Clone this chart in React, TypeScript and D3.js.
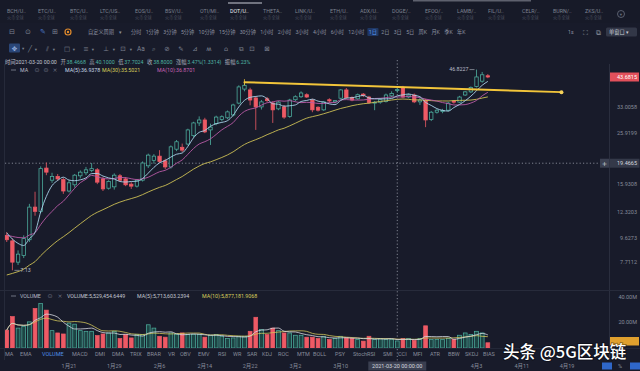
import React from "react";
import * as d3 from "d3";

// ---------------- data ----------------
const startDay = "2021-01-10";
// closes before the visible window (Dec 12 - Jan 9), used only for MA warm-up
const priorCloses = [4.6, 4.8, 4.7, 4.6, 4.9, 5.1, 5.0, 4.9, 4.8, 4.6, 4.5, 4.4, 4.6, 4.8, 5.1, 5.6, 6.2, 6.8, 7.4, 8.3, 8.8, 9.3, 9.9, 10.3, 10.1, 10.6, 10.2, 10.5, 9.9];
const opens = [9.9, 9.4, 7.7, 8.2, 9.5, 12.9, 12.4, 18.6, 16.6, 17.2, 16.7, 15.0, 15.9, 17.3, 17.8, 18.2, 18.3, 16.8, 15.4, 15.6, 17.3, 16.8, 16.0, 15.7, 16.6, 19.0, 20.0, 20.8, 19.9, 18.8, 22.2, 22.6, 23.3, 25.2, 28.4, 29.2, 26.6, 28.2, 29.3, 29.8, 30.6, 34.2, 39.0, 38.7, 35.9, 33.0, 35.6, 34.2, 32.4, 33.0, 30.2, 35.3, 36.3, 37.0, 35.2, 32.9, 32.1, 35.3, 34.6, 35.8, 38.7, 36.0, 35.6, 37.2, 36.2, 34.2, 34.5, 34.7, 36.6, 38.4668, 39.4, 36.2, 36.9, 34.6, 35.2, 29.3, 31.4, 31.6, 32.0, 34.9, 34.5, 36.9, 38.0, 40.0, 42.0, 44.2];
const highs = [10.2, 9.6, 8.6, 9.9, 13.3, 14.9, 18.9, 19.6, 17.8, 17.6, 17.0, 16.6, 17.6, 18.2, 18.8, 19.5, 18.6, 17.1, 16.6, 17.7, 17.6, 17.1, 16.3, 16.8, 19.8, 21.3, 21.2, 22.0, 20.3, 23.0, 24.2, 23.4, 26.9, 28.7, 30.2, 29.8, 28.2, 30.4, 30.5, 31.9, 34.0, 40.4, 41.6, 39.5, 36.5, 35.2, 36.2, 34.8, 34.9, 33.6, 35.6, 36.8, 38.2, 37.5, 35.6, 33.2, 34.9, 35.8, 35.2, 39.0, 39.4, 36.4, 37.4, 37.6, 36.6, 34.9, 35.8, 37.4, 38.2, 40.1, 40.2, 37.4, 37.4, 36.0, 35.6, 31.8, 32.3, 32.4, 34.6, 35.2, 36.6, 38.3, 40.0, 46.8227, 45.8, 44.9];
const lows = [9.3, 7.13, 7.5, 8.0, 9.3, 11.9, 12.2, 17.4, 16.2, 16.5, 14.6, 14.8, 15.5, 16.9, 17.4, 17.9, 16.0, 15.0, 15.2, 15.2, 16.4, 15.7, 15.3, 15.5, 16.4, 18.6, 19.4, 19.5, 18.4, 18.5, 21.8, 21.6, 23.0, 24.8, 27.6, 25.8, 23.1, 27.8, 28.8, 29.4, 30.2, 33.8, 38.2, 33.5, 26.6, 32.2, 34.6, 28.4, 32.0, 29.5, 29.8, 34.8, 35.9, 35.9, 31.4, 31.6, 31.8, 34.3, 34.1, 35.4, 35.6, 34.8, 35.3, 36.2, 34.0, 32.0, 34.0, 34.4, 36.1, 37.7024, 35.8, 35.8, 34.2, 33.6, 27.3, 28.9, 31.0, 31.1, 31.6, 34.0, 34.2, 36.6, 37.6, 39.6, 41.4, 43.2];
const closes = [9.5, 7.7, 8.3, 9.6, 12.9, 12.4, 18.5, 17.9, 17.2, 16.8, 15.0, 16.2, 17.4, 17.9, 18.3, 18.5, 16.3, 15.3, 16.4, 17.4, 16.6, 15.9, 15.7, 16.6, 19.5, 21.0, 20.8, 19.8, 18.8, 22.7, 23.8, 22.0, 26.6, 28.4, 29.2, 26.1, 27.3, 30.0, 30.1, 31.5, 33.6, 39.8, 40.4, 35.2, 33.0, 34.6, 35.0, 32.1, 34.5, 30.0, 35.2, 36.3, 37.6, 36.2, 32.1, 32.0, 34.6, 34.9, 35.0, 38.7, 36.0, 35.2, 37.0, 36.8, 34.4, 34.5, 35.3, 36.9, 37.47, 38.8, 36.2, 36.9, 34.6, 35.2, 29.2, 31.4, 32.0, 31.9, 34.2, 34.5, 36.2, 38.0, 39.6, 43.7, 44.6, 43.6815];
// volume in millions
const volumes = [14.0, 24.6, 15.6, 16.9, 20.5, 31.0, 34.9, 29.7, 13.6, 11.8, 11.0, 19.5, 18.7, 13.6, 13.1, 13.1, 9.7, 11.0, 11.8, 13.1, 7.4, 10.5, 7.9, 10.5, 10.5, 18.2, 15.6, 9.2, 8.5, 11.8, 10.5, 11.8, 10.5, 10.5, 10.5, 8.5, 10.0, 10.5, 9.2, 7.4, 7.9, 9.2, 9.2, 13.1, 24.1, 14.4, 10.5, 15.6, 13.6, 11.8, 11.8, 10.0, 10.0, 8.5, 8.5, 7.4, 9.2, 6.7, 7.4, 9.2, 7.9, 7.4, 6.7, 5.4, 9.2, 6.7, 7.4, 6.7, 6.7, 5.53, 7.4, 7.4, 5.9, 7.4, 17.4, 6.7, 6.7, 6.7, 7.4, 6.7, 10.0, 11.8, 10.5, 13.1, 11.8, 4.1];

const priceTicks = [33.0058, 25.9199, 15.9308, 12.3203, 9.6273, 7.7112];
const priceTickLabels = ["33.0058", "25.9199", "15.9308", "12.3203", "9.6273", "7.7112"];
const lastPriceLabel = "43.6815";
const crosshairDay = "2021-03-20";
const crosshairPrice = 19.4665;
const crosshairPriceLabel = "19.4665";
const crosshairDateLabel = "2021-03-20 00:00:00";
const volumeTicks = [40, 20];
const volumeTickLabels = ["40.00M", "20.00M"];
const dateTicks = ["2021-01-21", "2021-01-29", "2021-02-06", "2021-02-14", "2021-02-22", "2021-03-02", "2021-03-10", "2021-04-03", "2021-04-11", "2021-04-19"];
const dateTickLabels = ["1月21", "1月29", "2月6", "2月14", "2月22", "3月2", "3月10", "4月3", "4月11", "4月19"];
const trendDays = ["2021-02-21", "2021-04-18"];
const trendPrices = [41.6, 37.9];
const highLabel = "46.8227";
const lowLabel = "7.13";

const pairTabs = ["BCH/U..", "ETC/U..", "BTC/U..", "LTC/US..", "EOS/U..", "BSV/U..", "OTI/MI..", "DOT/U..", "THETA..", "LINK/U..", "ETH/U..", "ADX/U..", "DOGE/..", "EFOO/..", "LAMB/..", "FIL/U..", "CELR/..", "BURN/..", "ZKS/U.."];
const periods = ["分时", "1分钟", "3分钟", "5分钟", "10分钟", "15分钟", "30分钟", "1小时", "2小时", "3小时", "4小时", "6小时", "12小时", "1日", "2日", "3日", "5日", "周K", "月K", "季K", "年K"];
const activePeriod = "1日";
const indicators = ["MA", "EMA", "VOLUME", "MACD", "DMI", "DMA", "TRIX", "BRAR", "VR", "OBV", "EMV", "RSI", "WR", "SAR", "KDJ", "ROC", "MTM", "BOLL", "PSY", "StochRSI", "SMI", "CCI", "MFI", "ATR", "BBW", "SKDJ", "BIAS"];
const infoLabels = ["开", "高", "低", "收", "涨幅", "振幅"];
const infoValues = ["38.4668", "40.1000", "37.7024", "38.8000", "3.47%(1.3314)", "6.23%"];
const maLegend = ["MA(5):36.9378", "MA(30):35.5021", "MA(10):36.8701"];
const volLegend = ["VOLUME:5,529,454.6449", "MA(5):5,713,603.2394", "MA(10):5,877,181.9068"];

// ---------------- layout / style ----------------
const BG = "#181b2a";
const UP = "#4fb3a2";
const DOWN = "#ee5a65";
const GRAY = "#878c9a";
const FONT = "Roboto, 'Noto Sans CJK SC', sans-serif";
const CJK = "'Noto Sans CJK SC', Roboto, sans-serif";
const SYM = "'DejaVu Sans', sans-serif";
const tabX = [7, 38, 70, 100, 135, 165, 200, 230, 263, 295, 330, 360, 392, 425, 457, 488, 522, 553, 585];
const indicatorX = [5, 20, 42, 72, 95, 112, 130, 147, 168, 180, 198, 218, 233, 247, 262, 278, 297, 313, 335, 353, 383, 398, 413, 430, 448, 465, 483];

function tw(s: string, fs: number) {
  let w = 0;
  for (const ch of s) {
    if (/[\u3000-\u9fff\uff00-\uffef]/.test(ch)) w += fs;
    else if (/[0-9]/.test(ch)) w += fs * 0.562;
    else if (".,:".includes(ch)) w += fs * 0.26;
    else if (ch === " ") w += fs * 0.25;
    else if (ch === "-") w += fs * 0.28;
    else if (ch === "%") w += fs * 0.73;
    else if ("()".includes(ch)) w += fs * 0.34;
    else if ("MW".includes(ch)) w += fs * 0.87;
    else if (/[A-Z]/.test(ch)) w += fs * 0.64;
    else w += fs * 0.52;
  }
  return w;
}

export default function App() {
  const parse = d3.timeParse("%Y-%m-%d");
  const d0 = parse(startDay) as Date;
  const days = closes.map((_, i) => d3.timeDay.offset(d0, i));
  const x = d3.scaleTime().domain([parse("2021-01-21") as Date, parse("2021-04-19") as Date]).range([69, 69 + 88 * 5.66]);
  const y = d3.scaleLog().domain([7.7112, 43.6815]).range([262, 77]);
  const yv = d3.scaleLinear().domain([0, 40]).range([348, 297]);

  const all = priorCloses.concat(closes);
  const P = priorCloses.length;
  const ma = (n: number) => closes.map((_, i) => d3.mean(all.slice(P + i - n + 1, P + i + 1)) as number);
  const vma = (n: number) => volumes.map((_, i) => d3.mean(volumes.slice(Math.max(0, i - n + 1), i + 1)) as number);
  const line = d3.line<number>().x((_, i) => x(days[i])).y((v) => y(v)).curve(d3.curveMonotoneX);
  const vline = d3.line<number>().x((_, i) => x(days[i])).y((v) => yv(v)).curve(d3.curveMonotoneX);

  const cw = 3.4;
  const vw = 3.8;
  const xc = x(parse(crosshairDay) as Date);
  const yc = y(crosshairPrice);
  const hiIdx = highs.indexOf(d3.max(highs) as number);
  const loIdx = lows.indexOf(d3.min(lows) as number);

  const pfs = 5.2;
  let px = 131;
  const periodPos = periods.map((p) => {
    const pos = px;
    px += tw(p, pfs) + 4.3;
    return pos;
  });

  const ifs = 5.3;
  let ix = 5 + tw("时间2021-03-20 00:00", ifs) + 3.5;
  const infoPos = infoLabels.map((l, i) => {
    const lx = ix;
    const vx = lx + tw(l, ifs) + 0.8;
    ix = vx + tw(infoValues[i], ifs) + 3.5;
    return [lx, vx];
  });

  const tools = [
    { g: "╱", x: 30 }, { g: "▾", x: 36 }, { g: "⫽", x: 47 }, { g: "▾", x: 54 }, { g: "□", x: 67 }, { g: "▾", x: 74 },
    { g: "≡", x: 86 }, { g: "▾", x: 93 }, { g: "⊥", x: 106 }, { g: "▾", x: 114 }, { g: "⊡", x: 123 }, { g: "▾", x: 131 },
    { g: "Aa", x: 141 }, { g: "⌕", x: 154 }, { g: "⊘", x: 167 }, { g: "✎", x: 181 }, { g: "⊿", x: 195 }, { g: "ʍ", x: 209 },
    { g: "⌂", x: 226 }, { g: "⧉", x: 241 }, { g: "⊡", x: 252 }, { g: "⊠", x: 267 },
  ];

  return (
    <svg width={640} height={371} style={{ position: "fixed", left: 0, top: 0, display: "block", background: BG }} fontFamily={FONT}>
      <defs>
        <clipPath id="main"><rect x={5} y={64} width={604} height={226} /></clipPath>
        <clipPath id="vol"><rect x={5} y={299} width={604} height={49} /></clipPath>
      </defs>
      <rect x={0} y={0} width={640} height={371} fill={BG} />
      <rect x={0} y={0} width={640} height={23} fill="#171a28" />
      <rect x={413} y={0} width={118} height={1.5} fill="#8d919c" opacity={0.6} />

      {/* tab bar */}
      <line x1={228} x2={262} y1={3} y2={3} stroke="#c9ccd6" strokeWidth={1.2} />
      {pairTabs.map((t, i) => (
        <g key={t}>
          <text x={tabX[i]} y={12.5} fontSize={5.3} fill={t.startsWith("DOT") ? "#e8eaf0" : "#7d8291"}>{t}</text>
          <text x={tabX[i]} y={18.5} fontSize={4.2} fill="#474c5c" fontFamily={CJK}>火币全球</text>
        </g>
      ))}
      <circle cx={621} cy={14} r={3.5} fill="none" stroke="#6b7080" strokeWidth={0.8} />
      <text x={621} y={15.8} fontSize={4.5} fill="#6b7080" textAnchor="middle" fontFamily={SYM}>▾</text>

      {/* row 2: periods */}
      {["⊟", "⊙", "⊞"].map((g, i) => (
        <text key={g} x={[12, 28, 55][i]} y={34} fontSize={7} fill="#7d8291" textAnchor="middle" fontFamily={SYM}>{g}</text>
      ))}
      <text x={43} y={34} fontSize={7} fill="#4a78c8" textAnchor="middle" fontFamily={SYM}>✎</text>
      <circle cx={68} cy={32} r={3} fill="none" stroke="#e08a2c" strokeWidth={1.2} />
      <circle cx={68} cy={32} r={1.2} fill="#e08a2c" />
      <text x={88} y={34} fontSize={5.2} fill="#8d92a0" fontFamily={CJK}>自定义周期</text>
      <text x={119} y={34} fontSize={5} fill="#8d92a0" fontFamily={SYM}>▾</text>
      {periods.map((p, i) => (
        <g key={p}>
          {p === activePeriod && <rect x={periodPos[i] - 1.5} y={28} width={tw(p, pfs) + 3} height={8} rx={1} fill="#1f3763" />}
          <text x={periodPos[i]} y={34} fontSize={pfs} fill={p === activePeriod ? "#5b9cf2" : "#8d92a0"}>{p}</text>
        </g>
      ))}
      <text x={568} y={34} fontSize={5.2} fill="#8d92a0">1s</text>
      <text x={585} y={34.5} fontSize={7} fill="#8d92a0" fontFamily={SYM} textAnchor="middle">⛶</text>
      <text x={598} y={34.5} fontSize={7} fill="#8d92a0" fontFamily={SYM} textAnchor="middle">⧉</text>
      <rect x={606} y={27.5} width={31} height={9} rx={1.5} fill="#323747" />
      <text x={609} y={34} fontSize={5.2} fill="#c8ccd6" fontFamily={CJK}>单窗口 ▾</text>

      {/* row 3: tools */}
      <rect x={9} y={43.5} width={11} height={9} rx={1} fill="#2a4677" />
      <text x={14.5} y={50.5} fontSize={6.5} fill="#9fb8e6" textAnchor="middle" fontFamily={SYM}>✥</text>
      <text x={22} y={50} fontSize={4.5} fill="#7d8291" fontFamily={SYM}>▾</text>
      {tools.map((t, i) => (
        <text key={i} x={t.x} y={50.5} fontSize={t.g === "▾" ? 4.5 : 6.5} fill="#7d8291" textAnchor="middle" fontFamily={t.g === "Aa" ? FONT : SYM}>{t.g}</text>
      ))}

      {/* row 4: info */}
      <text x={5} y={63.8} fontSize={ifs} fill="#c3c7d1">时间2021-03-20 00:00</text>
      {infoLabels.map((l, i) => (
        <g key={l}>
          <text x={infoPos[i][0]} y={63.8} fontSize={ifs} fill="#aeb2bd">{l}</text>
          <text x={infoPos[i][1]} y={63.8} fontSize={ifs} fill={UP}>{infoValues[i]}</text>
        </g>
      ))}

      {/* MA legend */}
      <line x1={11} x2={16} y1={70} y2={70} stroke={GRAY} strokeWidth={0.8} />
      <text x={20} y={71.8} fontSize={5.3} fill="#b8bcc7">MA</text>
      <text x={37} y={72} fontSize={6} fill="#6b7080" textAnchor="middle" fontFamily={SYM}>⊙</text>
      <text x={46} y={72} fontSize={6} fill="#6b7080" textAnchor="middle" fontFamily={SYM}>⊜</text>
      <text x={55} y={72} fontSize={6} fill="#6b7080" textAnchor="middle" fontFamily={SYM}>×</text>
      <text x={65} y={71.8} fontSize={5.3} fill="#c8d8e6">{maLegend[0]}</text>
      <text x={102} y={71.8} fontSize={5.3} fill="#d9cf5a">{maLegend[1]}</text>
      <text x={157} y={71.8} fontSize={5.3} fill="#c862b6">{maLegend[2]}</text>

      {/* panel separators */}
      <line x1={4.5} x2={4.5} y1={64} y2={360} stroke="#262a3a" />
      <line x1={609.5} x2={609.5} y1={64} y2={360} stroke="#2a2e3e" />
      <line x1={0} x2={640} y1={290.5} y2={290.5} stroke="#272b3b" />
      <line x1={0} x2={640} y1={348.5} y2={348.5} stroke="#232737" />

      {/* crosshair */}
      <line x1={xc} x2={xc} y1={60} y2={361} stroke="#9a9fab" strokeWidth={0.8} strokeDasharray="1.2 2.2" />
      <line x1={5} x2={600} y1={yc} y2={yc} stroke="#9a9fab" strokeWidth={0.8} strokeDasharray="1.2 2.2" />

      {/* main chart */}
      <g clipPath="url(#main)">
        {closes.map((c, i) => {
          const o = opens[i];
          const up = c >= o;
          const cx = x(days[i]);
          const yT = y(Math.max(o, c));
          const yB = y(Math.min(o, c));
          const h = Math.max(0.9, yB - yT);
          const col = up ? UP : DOWN;
          return (
            <g key={i}>
              <line x1={cx} x2={cx} y1={y(highs[i])} y2={yT} stroke={col} strokeWidth={0.8} />
              <line x1={cx} x2={cx} y1={yT + h} y2={y(lows[i])} stroke={col} strokeWidth={0.8} />
              <rect x={cx - cw / 2} y={yT} width={cw} height={h} fill={up ? BG : DOWN} stroke={col} strokeWidth={0.75} />
            </g>
          );
        })}
        <path d={line(ma(30)) as string} fill="none" stroke="#cdbf55" strokeWidth={0.9} />
        <path d={line(ma(10)) as string} fill="none" stroke="#b95aa6" strokeWidth={0.9} />
        <path d={line(ma(5)) as string} fill="none" stroke="#a9d2ea" strokeWidth={0.9} />
        <line
          x1={x(parse(trendDays[0]) as Date)} y1={y(trendPrices[0])}
          x2={x(parse(trendDays[1]) as Date)} y2={y(trendPrices[1])}
          stroke="#f2c53a" strokeWidth={1.9} strokeLinecap="round"
        />
        <circle cx={x(parse(trendDays[1]) as Date)} cy={y(trendPrices[1])} r={2} fill="#f7d35a" />
        <line x1={x(parse(trendDays[0]) as Date)} x2={x(parse(trendDays[0]) as Date)} y1={y(trendPrices[0]) - 3} y2={y(trendPrices[0]) + 3} stroke="#f2c53a" strokeWidth={0.8} />
      </g>
      {/* high / low marks */}
      <line x1={x(days[hiIdx]) - 7} x2={x(days[hiIdx]) - 2} y1={y(highs[hiIdx])} y2={y(highs[hiIdx])} stroke="#b9bdc8" strokeWidth={0.6} />
      <text x={x(days[hiIdx]) - 8} y={y(highs[hiIdx]) + 1.8} fontSize={5.3} fill="#b9bdc8" textAnchor="end">{highLabel}</text>
      <line x1={x(days[loIdx]) + 2} x2={x(days[loIdx]) + 7} y1={y(lows[loIdx])} y2={y(lows[loIdx])} stroke="#b9bdc8" strokeWidth={0.6} />
      <text x={x(days[loIdx]) + 8} y={y(lows[loIdx]) + 1.8} fontSize={5.3} fill="#b9bdc8">{lowLabel}</text>

      {/* price axis */}
      {priceTicks.map((v, i) => (
        <text key={v} x={637} y={y(v) + 1.9} fontSize={5.5} fill={GRAY} textAnchor="end">{priceTickLabels[i]}</text>
      ))}
      <rect x={610} y={y(closes[closes.length - 1]) - 4.5} width={29} height={9} fill="#e2505b" />
      <text x={637} y={y(closes[closes.length - 1]) + 1.9} fontSize={5.5} fill="#ffffff" textAnchor="end">{lastPriceLabel}</text>
      <rect x={600} y={yc - 4.5} width={9} height={9} fill="#3a3f50" />
      <text x={604.5} y={yc + 2.3} fontSize={6.5} fill="#c9ccd6" textAnchor="middle" fontFamily={SYM}>+</text>
      <rect x={609.5} y={yc - 4.5} width={30} height={9} fill="#343949" />
      <text x={637} y={yc + 1.9} fontSize={5.5} fill="#d4d7df" textAnchor="end">{crosshairPriceLabel}</text>

      {/* volume pane */}
      <line x1={11} x2={16} y1={296} y2={296} stroke={GRAY} strokeWidth={0.8} />
      <text x={20} y={297.8} fontSize={5.3} fill="#b8bcc7">VOLUME</text>
      <text x={50} y={298} fontSize={6} fill="#6b7080" textAnchor="middle" fontFamily={SYM}>⊙</text>
      <text x={60} y={298} fontSize={6} fill="#6b7080" textAnchor="middle" fontFamily={SYM}>×</text>
      <text x={67} y={297.8} fontSize={5.3} fill="#c3c7d1">{volLegend[0]}</text>
      <text x={137} y={297.8} fontSize={5.3} fill="#c3c7d1">{volLegend[1]}</text>
      <text x={202} y={297.8} fontSize={5.3} fill="#d9cf5a">{volLegend[2]}</text>
      <g clipPath="url(#vol)">
        {volumes.map((v, i) => {
          const up = closes[i] >= opens[i];
          const cx = x(days[i]);
          return (
            <rect key={i} x={cx - vw / 2} y={yv(v)} width={vw} height={yv(0) - yv(v)}
              fill={up ? "#1d4444" : DOWN} stroke={up ? UP : DOWN} strokeWidth={0.7} />
          );
        })}
        <path d={vline(vma(10)) as string} fill="none" stroke="#d2c75a" strokeWidth={0.8} />
        <path d={vline(vma(5)) as string} fill="none" stroke="#d8dbe2" strokeWidth={0.8} />
      </g>
      {volumeTicks.map((v, i) => (
        <text key={v} x={637} y={yv(v) + 1.9} fontSize={5.5} fill={GRAY} textAnchor="end">{volumeTickLabels[i]}</text>
      ))}
      <rect x={610} y={337} width={29} height={8.5} fill="#e0a02e" />

      {/* indicator row */}
      {indicators.map((s, i) => (
        <text key={s} x={indicatorX[i]} y={355.5} fontSize={5.5} fill={s === "VOLUME" ? "#4f8fe6" : GRAY}>{s}</text>
      ))}

      {/* date axis */}
      {dateTicks.map((d, i) => (
        <text key={d} x={x(parse(d) as Date)} y={368} fontSize={5.5} fill={GRAY} textAnchor="middle">{dateTickLabels[i]}</text>
      ))}
      <rect x={xc - 29} y={361.5} width={58} height={9} fill="#3a3f50" />
      <text x={xc} y={368} fontSize={5.5} fill="#d4d7df" textAnchor="middle">{crosshairDateLabel}</text>
      <rect x={602} y={362.5} width={10} height={7} fill="#2f67c9" />
      <text x={620} y={368} fontSize={5.5} fill={GRAY} textAnchor="middle">%</text>
      <rect x={630} y={362.5} width={10} height={7} fill="#2f67c9" />

      {/* watermark */}
      <text x={503} y={357.5} fontSize={16.5} fontFamily={CJK} fontWeight={500} fill="#ffffff"
        stroke="rgba(0,0,0,0.35)" strokeWidth={2} style={{ paintOrder: "stroke" }}>头条 @5G区块链</text>
    </svg>
  );
}
